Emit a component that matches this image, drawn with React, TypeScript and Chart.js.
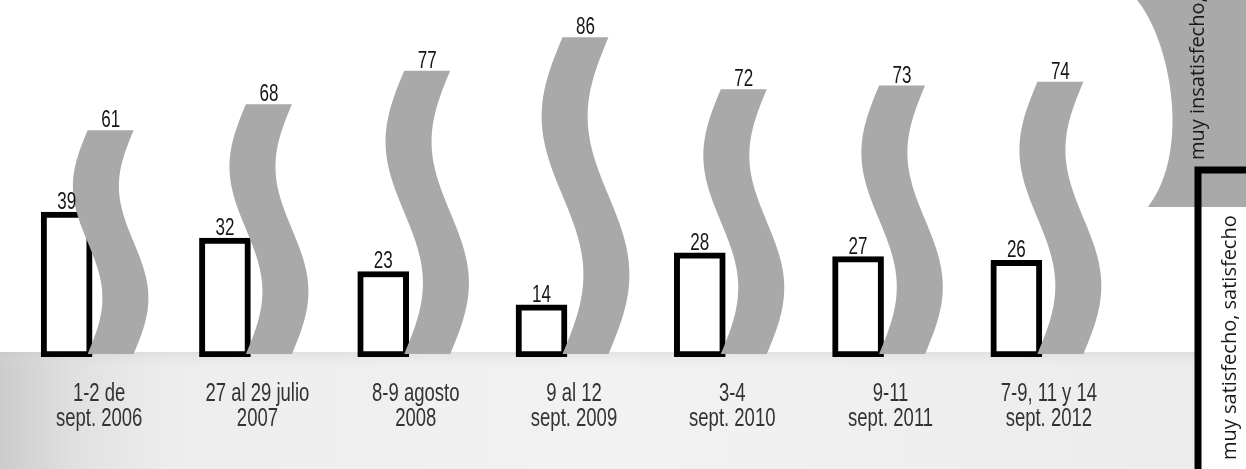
import React, { useEffect, useRef } from "react";
import { Chart, registerables } from "chart.js";

Chart.register(...registerables);

const categories: string[][] = [
  ["1-2 de", "sept. 2006"],
  ["27 al 29 julio", "2007"],
  ["8-9 agosto", "2008"],
  ["9 al 12", "sept. 2009"],
  ["3-4", "sept. 2010"],
  ["9-11", "sept. 2011"],
  ["7-9, 11 y 14", "sept. 2012"],
];
const satisfied = [39, 32, 23, 14, 28, 27, 26];
const unsatisfied = [61, 68, 77, 86, 72, 73, 74];
const seriesNames = ["muy satisfecho, satisfecho", "muy insatisfecho, insatisfecho"];

const COND = '"Liberation Sans", Arial, sans-serif';
const LEGEND_FONT = '"Open Sans", "Noto Sans", sans-serif';
const RIBBON = "#a9a9a9";
const SQUEEZE = 0.74;

function condText(ctx: any, text: string, x: number, y: number) {
  ctx.save();
  ctx.translate(x, y);
  ctx.scale(SQUEEZE, 1);
  ctx.fillText(text, 0, 0);
  ctx.restore();
}

const floorPlugin = {
  id: "floor",
  beforeDraw(chart: any) {
    const { ctx, chartArea, width, height } = chart;
    const top = chartArea.bottom - 5;
    const right = width - 51;
    ctx.save();
    const g = ctx.createLinearGradient(0, 0, right, 0);
    g.addColorStop(0, "#cbcbcb");
    g.addColorStop(0.06, "#e0e0e0");
    g.addColorStop(0.14, "#ededed");
    g.addColorStop(0.5, "#f2f2f2");
    g.addColorStop(1, "#ececec");
    ctx.fillStyle = g;
    ctx.fillRect(0, top, right, height - top);
    const v = ctx.createLinearGradient(0, top, 0, height);
    v.addColorStop(0, "rgba(200,200,200,0.35)");
    v.addColorStop(0.15, "rgba(230,230,230,0.0)");
    v.addColorStop(1, "rgba(255,255,255,0.0)");
    ctx.fillStyle = v;
    ctx.fillRect(0, top, right, height - top);
    ctx.restore();
  },
};

function ribbonPath(ctx: any, cx: number, top: number, bottom: number, halfW: number) {
  const h = bottom - top;
  const A = 0.066 * h;
  const n = 48;
  ctx.beginPath();
  for (let i = 0; i <= n; i++) {
    const t = i / n;
    const x = cx - A * Math.sin(2 * Math.PI * t) - halfW;
    const y = top + t * h;
    if (i === 0) ctx.moveTo(x, y);
    else ctx.lineTo(x, y);
  }
  for (let i = n; i >= 0; i--) {
    const t = i / n;
    const x = cx - A * Math.sin(2 * Math.PI * t) + halfW;
    const y = top + t * h;
    ctx.lineTo(x, y);
  }
  ctx.closePath();
}

const RIBBON_SHIFT = -7;

const ribbonPlugin = {
  id: "ribbons",
  afterDatasetsDraw(chart: any) {
    const { ctx } = chart;
    const meta = chart.getDatasetMeta(1);
    ctx.save();
    ctx.fillStyle = RIBBON;
    meta.data.forEach((el: any) => {
      ribbonPath(ctx, el.x + RIBBON_SHIFT, el.y, el.base - 3, 23);
      ctx.fill();
    });
    // value labels
    ctx.fillStyle = "#151515";
    ctx.font = `23px ${COND}`;
    ctx.textAlign = "center";
    ctx.textBaseline = "alphabetic";
    chart.getDatasetMeta(0).data.forEach((el: any, i: number) => {
      condText(ctx, String(satisfied[i]), el.x, el.y - 3);
    });
    meta.data.forEach((el: any, i: number) => {
      condText(ctx, String(unsatisfied[i]), el.x + RIBBON_SHIFT, el.y - 3);
    });
    // category labels
    const xs = chart.scales.x;
    const bottom = chart.chartArea.bottom;
    ctx.fillStyle = "#333333";
    ctx.font = `25px ${COND}`;
    categories.forEach((lines, i) => {
      const x = xs.getPixelForValue(i) + 7;
      lines.forEach((line, j) => {
        condText(ctx, line, x, bottom + 44 + j * 25);
      });
    });
    ctx.restore();
  },
};

const legendPlugin = {
  id: "sideLegend",
  afterDraw(chart: any) {
    const { ctx, width, height } = chart;
    ctx.save();
    ctx.fillStyle = RIBBON;
    ctx.beginPath();
    ctx.moveTo(width - 109, 0);
    ctx.bezierCurveTo(width - 76, 40, width - 54, 150, width - 98, 207);
    ctx.lineTo(width, 207);
    ctx.lineTo(width, 0);
    ctx.closePath();
    ctx.fill();
    ctx.strokeStyle = "#000";
    ctx.lineWidth = 7;
    ctx.beginPath();
    ctx.moveTo(width - 48, height);
    ctx.lineTo(width - 48, 170);
    ctx.lineTo(width + 5, 170);
    ctx.stroke();
    ctx.fillStyle = "#1a1a1a";
    ctx.font = `20px ${LEGEND_FONT}`;
    ctx.textAlign = "left";
    ctx.textBaseline = "middle";
    ctx.save();
    ctx.translate(width - 48, 160);
    ctx.rotate(-Math.PI / 2);
    ctx.fillText(seriesNames[1], 0, 0);
    ctx.restore();
    ctx.save();
    ctx.translate(width - 16, 460);
    ctx.rotate(-Math.PI / 2);
    ctx.fillText(seriesNames[0], 0, 0);
    ctx.restore();
    ctx.restore();
  },
};

export default function App() {
  const ref = useRef<HTMLCanvasElement | null>(null);
  useEffect(() => {
    if (!ref.current) return;
    const chart = new Chart(ref.current, {
      type: "bar",
      data: {
        labels: categories.map((c) => c.join(" ")),
        datasets: [
          {
            label: seriesNames[0],
            data: satisfied,
            backgroundColor: "#ffffff",
            borderColor: "#000000",
            borderWidth: 6,
            borderSkipped: false,
            barThickness: 51,
          },
          {
            label: seriesNames[1],
            data: unsatisfied,
            backgroundColor: "rgba(0,0,0,0)",
            borderWidth: 0,
            barThickness: 51,
          },
        ],
      },
      options: {
        responsive: false,
        animation: false,
        events: [],
        layout: { padding: { left: 13, right: 125, top: 0, bottom: 112 } },
        plugins: { legend: { display: false }, tooltip: { enabled: false } },
        scales: {
          x: { display: false },
          y: { display: false, min: 0, max: 96 },
        },
      },
      plugins: [floorPlugin, ribbonPlugin, legendPlugin],
    });
    return () => chart.destroy();
  }, []);
  return (
    <div style={{ position: "absolute", left: 0, top: 0, width: 1246, height: 469, background: "#fff" }}>
      <canvas ref={ref} width={1246} height={469} />
    </div>
  );
}
